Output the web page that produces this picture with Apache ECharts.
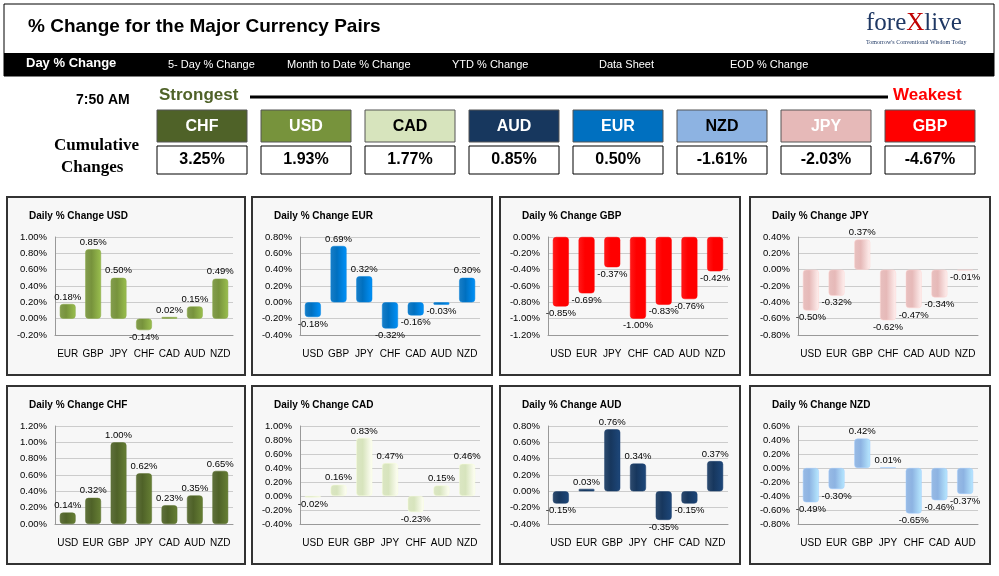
<!DOCTYPE html>
<html lang="en">
<head>
<meta charset="UTF-8">
<title>% Change for the Major Currency Pairs</title>
<style>
  html, body { margin: 0; padding: 0; background: #fff; }
  #main { width: 999px; height: 576px; }
</style>
<script src="https://cdn.jsdelivr.net/npm/echarts@6/dist/echarts.min.js"></script>
</head>
<body>
<div id="main"></div>
<script type="text/javascript">
// summary strip
var rankNames = ['CHF', 'USD', 'CAD', 'AUD', 'EUR', 'NZD', 'JPY', 'GBP'];
var rankValues = ['3.25%', '1.93%', '1.77%', '0.85%', '0.50%', '-1.61%', '-2.03%', '-4.67%'];
var menuItems = ['Day % Change', '5- Day % Change', 'Month to Date % Change', 'YTD % Change', 'Data Sheet', 'EOD % Change'];

// daily panels
var panelNames = ['USD', 'EUR', 'GBP', 'JPY', 'CHF', 'CAD', 'AUD', 'NZD'];
var cats = {
    USD: ['EUR', 'GBP', 'JPY', 'CHF', 'CAD', 'AUD', 'NZD'],
    EUR: ['USD', 'GBP', 'JPY', 'CHF', 'CAD', 'AUD', 'NZD'],
    GBP: ['USD', 'EUR', 'JPY', 'CHF', 'CAD', 'AUD', 'NZD'],
    JPY: ['USD', 'EUR', 'GBP', 'CHF', 'CAD', 'AUD', 'NZD'],
    CHF: ['USD', 'EUR', 'GBP', 'JPY', 'CAD', 'AUD', 'NZD'],
    CAD: ['USD', 'EUR', 'GBP', 'JPY', 'CHF', 'AUD', 'NZD'],
    AUD: ['USD', 'EUR', 'GBP', 'JPY', 'CHF', 'CAD', 'NZD'],
    NZD: ['USD', 'EUR', 'GBP', 'JPY', 'CHF', 'CAD', 'AUD']
};
var vals = {
    USD: [0.18, 0.85, 0.50, -0.14, 0.02, 0.15, 0.49],
    EUR: [-0.18, 0.69, 0.32, -0.32, -0.16, -0.03, 0.30],
    GBP: [-0.85, -0.69, -0.37, -1.00, -0.83, -0.76, -0.42],
    JPY: [-0.50, -0.32, 0.37, -0.62, -0.47, -0.34, -0.01],
    CHF: [0.14, 0.32, 1.00, 0.62, 0.23, 0.35, 0.65],
    CAD: [-0.02, 0.16, 0.83, 0.47, -0.23, 0.15, 0.46],
    AUD: [-0.15, 0.03, 0.76, 0.34, -0.35, -0.15, 0.37],
    NZD: [-0.49, -0.30, 0.42, 0.01, -0.65, -0.46, -0.37]
};
var axisMin = { USD: -0.2, EUR: -0.4, GBP: -1.2, JPY: -0.8, CHF: 0, CAD: -0.4, AUD: -0.4, NZD: -0.8 };
var axisMax = { USD: 1.0, EUR: 0.8, GBP: 0, JPY: 0.4, CHF: 1.2, CAD: 1.0, AUD: 0.8, NZD: 0.6 };

var colors = {
    USD: '#77933c', EUR: '#0070c0', GBP: '#ff0000', JPY: '#e6b9b8',
    CHF: '#4f6228', CAD: '#d7e4bd', AUD: '#17375e', NZD: '#8db3e2'
};
var textColors = { CHF: '#fff', USD: '#fff', CAD: '#000', AUD: '#fff', EUR: '#fff', NZD: '#000', JPY: '#fff', GBP: '#fff' };

var panelX = [7, 252, 500, 750];
var panelW = [238, 240, 240, 240];
var panelY = [197, 386];
var panelH = 178;

var graphic = [];
// outer frame and title
graphic.push({ type: 'rect', shape: { x: 4, y: 4, width: 990, height: 72 }, style: { fill: '#fff', stroke: '#000', lineWidth: 1 } });
graphic.push({ type: 'text', left: 28, top: 17, style: { text: '% Change for the Major Currency Pairs', font: 'bold 19px "Liberation Sans"', fill: '#000' } });
graphic.push({ type: 'text', left: 866, top: 11, style: {
    text: '{a|fore}{b|X}{a|live}',
    rich: { a: { font: '25px "Liberation Serif"', fill: '#1f3864' }, b: { font: '25px "Liberation Serif"', fill: '#c00000' } }
} });
graphic.push({ type: 'text', left: 866, top: 39, style: { text: "Tomorrow's Conventional Wisdom Today", font: '6px "Liberation Serif"', fill: '#1f3864' } });
graphic.push({ type: 'rect', shape: { x: 4, y: 53, width: 990, height: 23 }, style: { fill: '#000' } });
var menuX = [26, 168, 287, 452, 599, 730];
menuItems.forEach(function (m, i) {
    graphic.push({ type: 'text', left: menuX[i], top: i === 0 ? 57 : 59, style: { text: m, font: (i === 0 ? 'bold 13px' : '11px') + ' "Liberation Sans"', fill: '#fff' } });
});
graphic.push({ type: 'text', left: 76, top: 93, style: { text: '7:50 AM', font: 'bold 14px "Liberation Sans"', fill: '#000' } });
graphic.push({ type: 'text', left: 159, top: 87, style: { text: 'Strongest', font: 'bold 17px "Liberation Sans"', fill: '#4f6228' } });
graphic.push({ type: 'text', left: 893, top: 87, style: { text: 'Weakest', font: 'bold 17px "Liberation Sans"', fill: '#ff0000' } });
graphic.push({ type: 'line', shape: { x1: 250, y1: 97, x2: 888, y2: 97 }, style: { stroke: '#000', lineWidth: 3 } });
graphic.push({ type: 'text', left: 54, top: 137, style: { text: 'Cumulative', font: 'bold 17px "Liberation Serif"', fill: '#000' } });
graphic.push({ type: 'text', left: 61, top: 159, style: { text: 'Changes', font: 'bold 17px "Liberation Serif"', fill: '#000' } });
rankNames.forEach(function (n, i) {
    var x = 157 + i * 104;
    graphic.push({ type: 'rect', shape: { x: x, y: 110, width: 90, height: 32 }, style: { fill: colors[n], stroke: '#555', lineWidth: 1 } });
    graphic.push({ type: 'text', x: x + 45, y: 127, style: { text: n, font: 'bold 16px "Liberation Sans"', fill: textColors[n], align: 'center', verticalAlign: 'middle' } });
    graphic.push({ type: 'rect', shape: { x: x, y: 146, width: 90, height: 28 }, style: { fill: '#fff', stroke: '#000', lineWidth: 1 } });
    graphic.push({ type: 'text', x: x + 45, y: 160, style: { text: rankValues[i], font: 'bold 16px "Liberation Sans"', fill: '#000', align: 'center', verticalAlign: 'middle' } });
});

var grids = [], xAxes = [], yAxes = [], series = [];
panelNames.forEach(function (name, i) {
    var col = i % 4, row = Math.floor(i / 4);
    var px = panelX[col], py = panelY[row], pw = panelW[col];
    var c = colors[name];
    graphic.push({ type: 'rect', z: -1, shape: { x: px, y: py, width: pw, height: panelH }, style: { fill: '#f7f7f7', stroke: '#333', lineWidth: 2 } });
    graphic.push({ type: 'text', left: px + 22, top: py + 14, style: { text: 'Daily % Change ' + name, font: 'bold 10px "Liberation Sans"', fill: '#000' } });
    grids.push({ left: px + 48, top: py + 40, width: pw - 60, height: 98 });
    xAxes.push({
        type: 'category', gridIndex: i, data: cats[name], position: 'bottom',
        axisLine: { onZero: false, lineStyle: { color: '#999' } }, axisTick: { show: false },
        axisLabel: { color: '#000', fontSize: 10, fontFamily: 'Liberation Sans', margin: 14, interval: 0 }
    });
    yAxes.push({
        type: 'value', gridIndex: i, min: axisMin[name], max: axisMax[name], interval: 0.2,
        axisLine: { show: true, lineStyle: { color: '#999' } },
        splitLine: { show: true, lineStyle: { color: '#ccc' } },
        axisLabel: { color: '#000', fontSize: 9.5, fontFamily: 'Liberation Sans', formatter: function (v) { return v.toFixed(2) + '%'; } }
    });
    var grad = new echarts.graphic.LinearGradient(0, 0, 1, 0, [
        { offset: 0, color: echarts.color.lift(c, 0.1) },
        { offset: 0.4, color: c },
        { offset: 1, color: echarts.color.lift(c, -0.3) }
    ]);
    series.push({
        type: 'bar', xAxisIndex: i, yAxisIndex: i, barWidth: '62%',
        itemStyle: { color: grad, borderRadius: 3, borderColor: echarts.color.lift(c, -0.15), borderWidth: 0.5 },
        data: vals[name].map(function (v) {
            return { value: v, label: { position: v < 0 ? 'bottom' : 'top' } };
        }),
        label: {
            show: true, fontSize: 9.5, fontFamily: 'Liberation Sans', color: '#000', distance: 2,
            formatter: function (p) { return p.value.toFixed(2) + '%'; }
        }
    });
});

var myChart = echarts.init(document.getElementById('main'));
myChart.setOption({
    animation: false,
    graphic: graphic,
    grid: grids,
    xAxis: xAxes,
    yAxis: yAxes,
    series: series
});
</script>
</body>
</html>
